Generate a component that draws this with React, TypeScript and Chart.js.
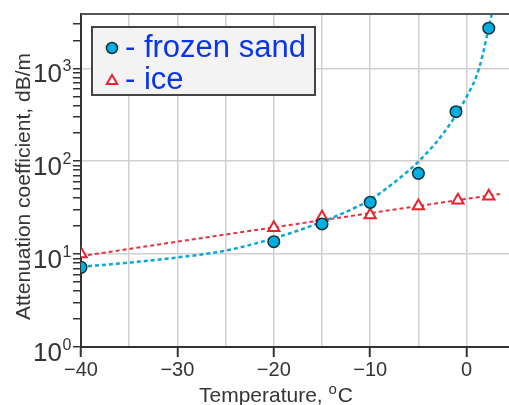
import React, { useEffect, useRef } from "react";
import { Chart, registerables } from "chart.js";

Chart.register(...registerables);

// Measured points
const sandT = [-40, -20, -15, -10, -5, -1.1, 2.3];
const sandAtt = [7.2, 13.6, 21.1, 36, 74, 341, 2700];
const iceT = [-40, -20, -15, -10, -5, -0.9, 2.3];
const iceAtt = [10, 19.2, 25, 26.4, 33, 38, 42];

// Fitted curves
const sandFitT = [-40, -35, -30, -25, -20, -15, -10, -7, -5, -2.4, 0, 1.3, 2.6];
const sandFitAtt = [7.3, 8.1, 9.2, 10.9, 14.8, 22.3, 38.5, 65, 99, 200, 494, 1000, 3800];
const iceFitT = [-40, -30, -20, -10, 0, 3.45];
const iceFitAtt = [9.5, 13.6, 19.4, 27.6, 39.3, 44.4];

// Axes
const xMin = -40;
const xMax = 4.4;
const yMin = 1;
const yMax = 3840;
const xGridValues = [-40, -35, -30, -25, -20, -15, -10, -5, 0];
const xLabelValues = [-40, -30, -20, -10, 0];
const yExponents = [0, 1, 2, 3];
const yMantissas = [1, 2, 3, 4, 5, 6, 7, 8, 9];

const legendLabels = ["frozen sand", "ice"];
const xTitle = "Temperature, ";
const xTitleSup = "o";
const xTitleUnit = "C";
const yTitle = "Attenuation coefficient, dB/m";

const FONT = "'Liberation Sans', Arial, sans-serif";
const TEXT = "#353535";
const SAND_FILL = "#00aee0";
const SAND_EDGE = "#10303c";
const ICE_RED = "#e8232d";
const SAND_LINE = "#0aa8d6";
const ICE_LINE = "#e5323c";
const BLUE_TEXT = "#0a35e8";

const zip = (xs: number[], ys: number[]) => xs.map((x, i) => ({ x, y: ys[i] }));

const isDecade = (v: number) => {
  const l = Math.log10(v);
  return Math.abs(l - Math.round(l)) < 1e-9;
};

const decorPlugin = {
  id: "decor",
  afterDraw(chart: any) {
    const ctx: CanvasRenderingContext2D = chart.ctx;
    const area = chart.chartArea;
    const xs = chart.scales.x;
    const ys = chart.scales.y;
    ctx.save();

    // top frame line
    ctx.strokeStyle = "#555";
    ctx.lineWidth = 2;
    ctx.beginPath();
    ctx.moveTo(area.left, area.top);
    ctx.lineTo(area.right, area.top);
    ctx.stroke();

    // y tick labels 10^n
    ctx.fillStyle = TEXT;
    for (const e of yExponents) {
      const py = ys.getPixelForValue(Math.pow(10, e));
      const rightEdge = area.left - 19;
      ctx.font = `26px ${FONT}`;
      ctx.textAlign = "right";
      ctx.textBaseline = "alphabetic";
      ctx.fillText("10", rightEdge, py + 14);
      ctx.font = `16px ${FONT}`;
      ctx.textAlign = "left";
      ctx.fillText(String(e), rightEdge + 0.5, py + 3);
    }

    // x tick labels
    ctx.font = `20px ${FONT}`;
    ctx.textAlign = "center";
    ctx.textBaseline = "alphabetic";
    for (const v of xLabelValues) {
      const px = xs.getPixelForValue(v);
      const label = v < 0 ? "\u2212" + Math.abs(v) : String(v);
      ctx.fillText(label, px, area.bottom + 29);
    }

    // x title
    ctx.font = `21px ${FONT}`;
    const w1 = ctx.measureText(xTitle).width;
    ctx.font = `15px ${FONT}`;
    const w2 = ctx.measureText(xTitleSup).width;
    ctx.font = `21px ${FONT}`;
    const w3 = ctx.measureText(xTitleUnit).width;
    const total = w1 + w2 + 1 + w3;
    const cx = area.left + 195;
    let sx = cx - total / 2;
    const base = area.bottom + 54.5;
    ctx.textAlign = "left";
    ctx.fillText(xTitle, sx, base);
    sx += w1;
    ctx.font = `15px ${FONT}`;
    ctx.fillText(xTitleSup, sx, base - 8);
    sx += w2 + 1;
    ctx.font = `21px ${FONT}`;
    ctx.fillText(xTitleUnit, sx, base);

    // y title
    ctx.save();
    ctx.translate(30, (area.top + area.bottom) / 2 + 6);
    ctx.rotate(-Math.PI / 2);
    ctx.textAlign = "center";
    ctx.font = `21px ${FONT}`;
    ctx.fillText(yTitle, 0, 0);
    ctx.restore();

    // legend box
    const bx = area.left + 11;
    const by = area.top + 13;
    const bw = 223;
    const bh = 68;
    ctx.fillStyle = "#f3f3f3";
    ctx.fillRect(bx, by, bw, bh);
    ctx.strokeStyle = "#444";
    ctx.lineWidth = 2;
    ctx.strokeRect(bx, by, bw, bh);

    // row 1 marker
    ctx.beginPath();
    ctx.arc(bx + 20, by + 21, 5.5, 0, Math.PI * 2);
    ctx.fillStyle = SAND_FILL;
    ctx.fill();
    ctx.lineWidth = 1.5;
    ctx.strokeStyle = SAND_EDGE;
    ctx.stroke();
    // row 2 marker
    const tr = 6;
    const tcx = bx + 20;
    const tcy = by + 54;
    ctx.beginPath();
    for (let k = 0; k < 3; k++) {
      const a = -Math.PI / 2 + (k * 2 * Math.PI) / 3;
      const px = tcx + Math.cos(a) * tr;
      const py = tcy + Math.sin(a) * tr;
      if (k === 0) ctx.moveTo(px, py);
      else ctx.lineTo(px, py);
    }
    ctx.closePath();
    ctx.fillStyle = "#fff";
    ctx.fill();
    ctx.lineWidth = 2;
    ctx.strokeStyle = ICE_RED;
    ctx.stroke();

    ctx.fillStyle = BLUE_TEXT;
    ctx.font = `31px ${FONT}`;
    ctx.textAlign = "left";
    ctx.textBaseline = "alphabetic";
    ctx.fillText("- " + legendLabels[0], bx + 33, by + 30);
    ctx.fillText("- " + legendLabels[1], bx + 33, by + 61.5);

    ctx.restore();
  },
};

export default function App() {
  const ref = useRef<HTMLCanvasElement | null>(null);

  useEffect(() => {
    document.body.style.margin = "0";
    const canvas = ref.current;
    if (!canvas) return;
    const chart: any = new Chart(canvas, {
      type: "scatter",
      data: {
        datasets: [
          {
            label: legendLabels[0],
            data: zip(sandT, sandAtt),
            pointStyle: "circle",
            pointRadius: 5.8,
            pointBorderWidth: 1.5,
            pointBackgroundColor: SAND_FILL,
            pointBorderColor: SAND_EDGE,
            showLine: false,
          },
          {
            label: legendLabels[1],
            data: zip(iceT, iceAtt),
            pointStyle: "triangle",
            pointRadius: 6.5,
            pointBorderWidth: 2,
            pointBackgroundColor: "#ffffff",
            pointBorderColor: ICE_RED,
            showLine: false,
          },
          {
            label: "sand fit",
            data: zip(sandFitT, sandFitAtt),
            showLine: true,
            pointRadius: 0,
            borderColor: SAND_LINE,
            borderWidth: 2.5,
            borderDash: [4, 3],
            cubicInterpolationMode: "monotone",
            fill: false,
          },
          {
            label: "ice fit",
            data: zip(iceFitT, iceFitAtt),
            showLine: true,
            pointRadius: 0,
            borderColor: ICE_LINE,
            borderWidth: 2,
            borderDash: [4, 3],
            fill: false,
          },
        ],
      },
      options: {
        animation: false,
        responsive: false,
        devicePixelRatio: 1,
        events: [],
        layout: { autoPadding: false, padding: { top: 14, right: 0, left: 0, bottom: 0 } },
        plugins: {
          legend: { display: false },
          tooltip: { enabled: false },
        },
        scales: {
          x: {
            type: "linear",
            min: xMin,
            max: xMax,
            afterBuildTicks: (scale: any) => {
              scale.ticks = xGridValues.map((v) => ({ value: v }));
            },
            afterFit: (scale: any) => {
              scale.height = 58;
            },
            ticks: { display: false },
            grid: {
              color: "#d0d0d0",
              lineWidth: 1.5,
              drawTicks: true,
              tickLength: 10,
              tickWidth: 2,
              tickColor: (c: any) =>
                c.tick && xLabelValues.includes(c.tick.value) ? "#333" : "rgba(0,0,0,0)",
            },
            border: { color: "#333", width: 2 },
          },
          y: {
            type: "logarithmic",
            min: yMin,
            max: yMax,
            afterBuildTicks: (scale: any) => {
              const t: { value: number }[] = [];
              for (const e of yExponents) {
                for (const m of yMantissas) {
                  const v = m * Math.pow(10, e);
                  if (v <= yMax) t.push({ value: v });
                }
              }
              scale.ticks = t;
            },
            afterFit: (scale: any) => {
              scale.width = 81;
            },
            ticks: { display: false },
            grid: {
              color: (c: any) =>
                c.tick && isDecade(c.tick.value) ? "#d0d0d0" : "rgba(0,0,0,0)",
              lineWidth: 1.5,
              drawTicks: true,
              tickLength: 8,
              tickWidth: 1.5,
              tickColor: "#333",
            },
            border: { color: "#333", width: 2 },
          },
        },
      },
      plugins: [decorPlugin],
    } as any);

    return () => chart.destroy();
  }, []);

  return (
    <div style={{ width: 509, height: 405, background: "#fff" }}>
      <canvas ref={ref} width={509} height={405} style={{ display: "block" }} />
    </div>
  );
}
